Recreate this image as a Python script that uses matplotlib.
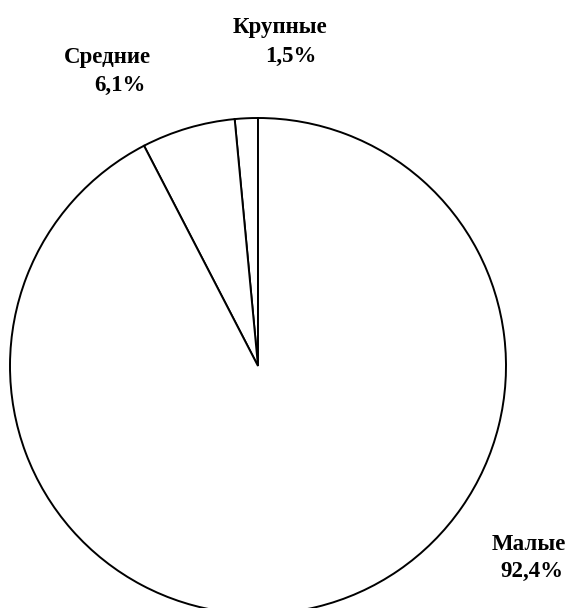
import matplotlib
matplotlib.use('Agg')
import matplotlib.pyplot as plt

labels = ['Крупные', 'Средние', 'Малые']
shares = [1.5, 6.1, 92.4]
pct_text = ['1,5%', '6,1%', '92,4%']

W, H = 570, 608
cx, cy, r = 258, 366, 248

fig = plt.figure(figsize=(W / 100, H / 100), dpi=100)
ax = fig.add_axes([0, 0, 1, 1])
ax.pie(shares, startangle=90, counterclock=True, colors=['white'] * 3,
       wedgeprops=dict(edgecolor='black', linewidth=1.4))
ax.set_xlim(-cx / r, (W - cx) / r)
ax.set_ylim(-(H - cy) / r, cy / r)
ax.set_aspect('auto')
ax.axis('off')

font = dict(family='Liberation Serif', fontweight='bold', fontsize=16.5, color='black')

def put(x, y, s, ha='center'):
    fig.text(x / W, 1 - y / H, s, ha=ha, va='center', **font)

# label positions (pixels from top-left)
pos = {
    'Крупные': ((280, 27), (291, 56)),
    'Средние': ((107, 57), (120, 85)),
    'Малые': ((529, 544), (532, 571)),
}
for lab, pt in zip(labels, pct_text):
    (x1, y1), (x2, y2) = pos[lab]
    put(x1, y1, lab)
    put(x2, y2, pt)

fig.savefig('out.png', dpi=100, facecolor='white')
